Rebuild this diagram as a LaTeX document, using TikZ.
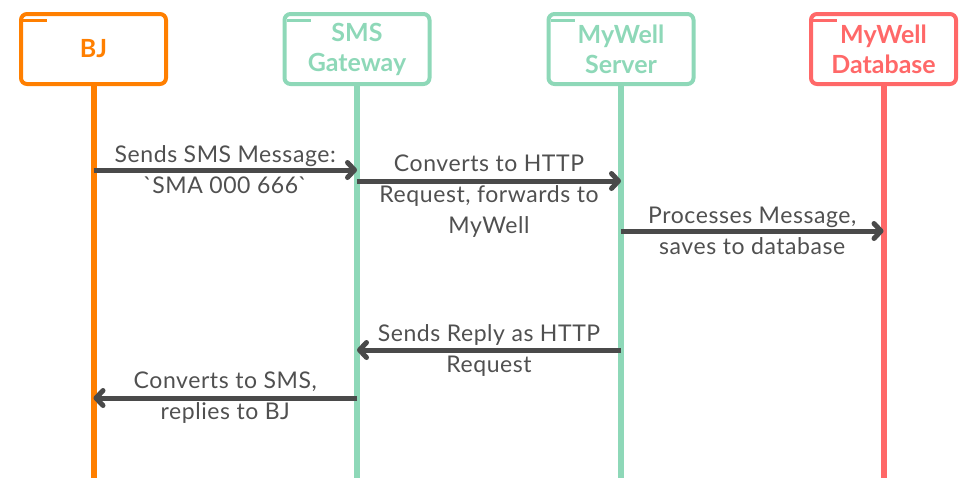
\documentclass[tikz,border=0pt]{standalone}
\usepackage{fontspec}
\setmainfont{Lato}
\newfontfamily\msgfont[LetterSpace=2.5]{Lato}
\usepackage{xcolor}
\usetikzlibrary{positioning,arrows.meta}

\definecolor{bjorange}{HTML}{FF7F00}
\definecolor{gwgreen}{HTML}{8ED8B8}
\definecolor{dbred}{HTML}{FF6868}
\definecolor{msggray}{HTML}{4A4A4A}
\definecolor{lblgray}{HTML}{505050}

\begin{document}
\begin{tikzpicture}[
  x=1pt, y=-1pt,
  actor/.style={draw, rounded corners=6pt, line width=4pt, minimum width=145pt, minimum height=70pt, font=\fontsize{25}{30}\selectfont\bfseries, align=center},
  tick/.style={line width=3.5pt},
  life/.style={line width=6pt},
  msg/.style={draw=msggray, line width=5pt, -{Straight Barb[length=7pt,width=15pt,line cap=round,line join=round]}},
  lbl/.style={text=lblgray, font=\msgfont\fontsize{23}{31}\selectfont, align=center}
]
\useasboundingbox (0,0) rectangle (968,498);

% Actors
\node[actor, draw=bjorange, text=bjorange] (bj) at (93.5,49) {BJ};
\node[actor, draw=gwgreen, text=gwgreen] (gw) at (357,49) {SMS\\Gateway};
\node[actor, draw=gwgreen, text=gwgreen] (srv) at (621,49) {MyWell\\Server};
\node[actor, draw=dbred, text=dbred] (db) at (883.5,49) {MyWell\\Database};

\draw[tick, bjorange] ([shift={(4,8.5)}]bj.north west) -- ++(24,0);
\draw[tick, gwgreen] ([shift={(4,8.5)}]gw.north west) -- ++(24,0);
\draw[tick, gwgreen] ([shift={(4,8.5)}]srv.north west) -- ++(24,0);
\draw[tick, dbred] ([shift={(4,8.5)}]db.north west) -- ++(24,0);

% Lifelines
\coordinate (bjEnd) at (bj |- 0,478);
\coordinate (gwEnd) at (gw |- 0,478);
\coordinate (srvEnd) at (srv |- 0,478);
\coordinate (dbEnd) at (db |- 0,478);
\draw[life, bjorange] (bj.south) -- (bjEnd);
\draw[life, gwgreen] (gw.south) -- (gwEnd);
\draw[life, gwgreen] (srv.south) -- (srvEnd);
\draw[life, dbred] (db.south) -- (dbEnd);

% Messages
\draw[msg] (bj |- 0,170) -- (gw |- 0,170)
  node[lbl, midway] {Sends SMS Message:\\\textasciigrave SMA 000 666\textasciigrave};
\draw[msg] (gw |- 0,181) -- (srv |- 0,181)
  node[lbl, midway, yshift=-15.5pt] {Converts to HTTP\\Request, forwards to\\MyWell};
\draw[msg] (srv |- 0,231) -- (db |- 0,231)
  node[lbl, midway] {Processes Message,\\saves to database};
\draw[msg] (srv |- 0,350) -- (gw |- 0,350)
  node[lbl, midway] {Sends Reply as HTTP\\Request};
\draw[msg] (gw |- 0,398) -- (bj |- 0,398)
  node[lbl, midway] {Converts to SMS,\\replies to BJ};

\end{tikzpicture}
\end{document}
